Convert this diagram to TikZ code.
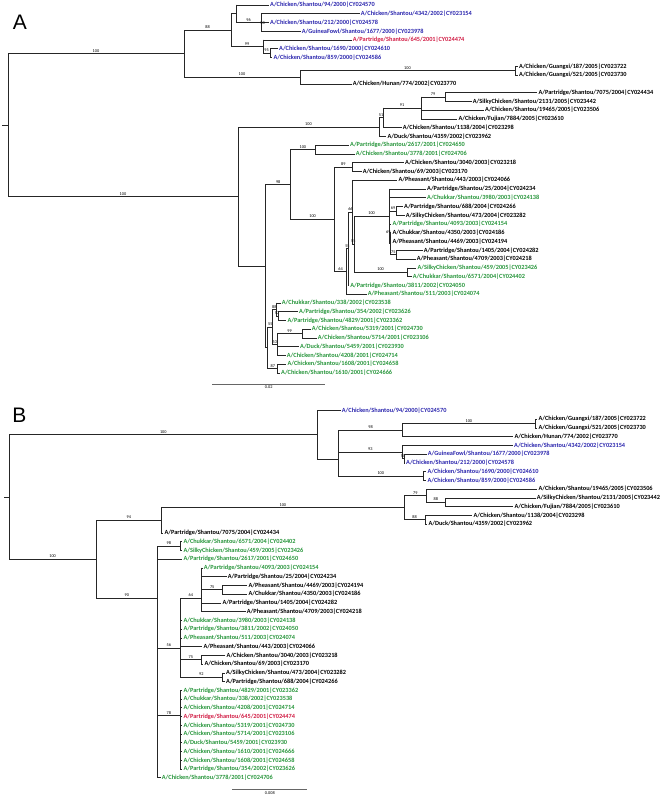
\documentclass[tikz,border=0pt]{standalone}
\usepackage{fontspec}
\setmainfont{Carlito}
\newfontfamily\arialf{Liberation Sans}
\definecolor{tblue}{RGB}{45,40,175}
\definecolor{tgreen}{RGB}{40,150,60}
\definecolor{tred}{RGB}{210,30,70}
\newcommand\labfont{\fontsize{6.3}{6.3}\selectfont\bfseries}
\newcommand\bsfont{\fontsize{4.3}{4.3}\selectfont}
\tikzset{
  br/.style={line width=0.7pt, draw=black!85, line cap=rect},
  lab/.style={font=\labfont, anchor=west, inner xsep=1.5pt, inner ysep=0pt},
  bs/.style={font=\bsfont, inner sep=0.4pt, anchor=south, yshift=0.7pt},
  bsx/.style={font=\bsfont, inner sep=0.4pt},
  blueT/.style={text=tblue}, greenT/.style={text=tgreen}, redT/.style={text=tred}, blackT/.style={text=black},
  plab/.style={font=\arialf\fontsize{21}{21}\selectfont, inner sep=0pt}
}
\newcommand\lf[5]{\node[lab,#4] (#1) at (#2,#3) {#5};}
\newcommand\nd[3]{\coordinate (#1) at (#2,#3);}
\newcommand\ed[3]{\draw[br] (#1 |- #2) -- (#2) node[bs,midway]{#3};}
\newcommand\el[2]{\draw[br] (#1 |- #2) -- (#2.west);}
\newcommand\vl[3]{\draw[br] (#1 |- #2) -- (#1 |- #3);}
\begin{document}
\begin{tikzpicture}[x=1pt,y=-1pt]
\useasboundingbox (0,0) rectangle (662,799);
\fill[white] (0,0) rectangle (662,799);
\node[plab] (labA) at (20,22.5) {A};
\node[plab] (labB) at (19.5,415) {B};
% ---------------- Panel A leaves
\lf{a94}{268.5}{5.0}{blueT}{A/Chicken/Shantou/94/2000|CY024570}
\lf{a4342}{359.2}{13.8}{blueT}{A/Chicken/Shantou/4342/2002|CY023154}
\lf{a212}{268.5}{22.5}{blueT}{A/Chicken/Shantou/212/2000|CY024578}
\lf{a1677}{300.2}{31.3}{blueT}{A/GuineaFowl/Shantou/1677/2000|CY023978}
\lf{a645}{351.2}{40.0}{redT}{A/Partridge/Shantou/645/2001|CY024474}
\lf{a1690}{277.5}{48.8}{blueT}{A/Chicken/Shantou/1690/2000|CY024610}
\lf{a859}{271.8}{57.6}{blueT}{A/Chicken/Shantou/859/2000|CY024586}
\lf{a187}{517.5}{66.3}{blackT}{A/Chicken/Guangxi/187/2005|CY023722}
\lf{a521}{517.5}{75.1}{blackT}{A/Chicken/Guangxi/521/2005|CY023730}
\lf{a774}{351.2}{83.9}{blackT}{A/Chicken/Hunan/774/2002|CY023770}
\lf{a7075}{536.8}{92.6}{blackT}{A/Partridge/Shantou/7075/2004|CY024434}
\lf{a2131}{471.2}{101.4}{blackT}{A/SilkyChicken/Shantou/2131/2005|CY023442}
\lf{a19465}{483.5}{110.1}{blackT}{A/Chicken/Shantou/19465/2005|CY023506}
\lf{a7884}{456.8}{118.9}{blackT}{A/Chicken/Fujian/7884/2005|CY023610}
\lf{a1138}{401.2}{127.7}{blackT}{A/Chicken/Shantou/1138/2004|CY023298}
\lf{a4359}{385.8}{136.4}{blackT}{A/Duck/Shantou/4359/2002|CY023962}
\lf{a2617}{348.5}{145.2}{greenT}{A/Partridge/Shantou/2617/2001|CY024650}
\lf{a3778}{354.2}{154.0}{greenT}{A/Chicken/Shantou/3778/2001|CY024706}
\lf{a3040}{403.5}{162.7}{blackT}{A/Chicken/Shantou/3040/2003|CY023218}
\lf{a69}{361.2}{171.5}{blackT}{A/Chicken/Shantou/69/2003|CY023170}
\lf{a443}{396.8}{180.2}{blackT}{A/Pheasant/Shantou/443/2003|CY024066}
\lf{a25}{425.5}{189.0}{blackT}{A/Partridge/Shantou/25/2004|CY024234}
\lf{a3980}{425.5}{197.8}{greenT}{A/Chukkar/Shantou/3980/2003|CY024138}
\lf{a688}{402.5}{206.5}{blackT}{A/Partridge/Shantou/688/2004|CY024266}
\lf{a473}{404.2}{215.3}{blackT}{A/SilkyChicken/Shantou/473/2004|CY023282}
\lf{a4093}{390.8}{224.1}{greenT}{A/Partridge/Shantou/4093/2003|CY024154}
\lf{a4350}{390.8}{232.8}{blackT}{A/Chukkar/Shantou/4350/2003|CY024186}
\lf{a4469}{390.8}{241.6}{blackT}{A/Pheasant/Shantou/4469/2003|CY024194}
\lf{a1405}{422.2}{250.3}{blackT}{A/Partridge/Shantou/1405/2004|CY024282}
\lf{a4709}{415.2}{259.1}{blackT}{A/Pheasant/Shantou/4709/2003|CY024218}
\lf{a459}{415.8}{267.9}{greenT}{A/SilkyChicken/Shantou/459/2005|CY023426}
\lf{a6571}{411.2}{276.6}{greenT}{A/Chukkar/Shantou/6571/2004|CY024402}
\lf{a3811}{348.6}{285.4}{greenT}{A/Partridge/Shantou/3811/2002|CY024050}
\lf{a511}{366.2}{294.1}{greenT}{A/Pheasant/Shantou/511/2003|CY024074}
\lf{a338}{280.2}{302.9}{greenT}{A/Chukkar/Shantou/338/2002|CY023538}
\lf{a354}{297.5}{311.7}{greenT}{A/Partridge/Shantou/354/2002|CY023626}
\lf{a4829}{285.8}{320.4}{greenT}{A/Partridge/Shantou/4829/2001|CY023362}
\lf{a5319}{310.2}{329.2}{greenT}{A/Chicken/Shantou/5319/2001|CY024730}
\lf{a5714}{316.2}{338.0}{greenT}{A/Chicken/Shantou/5714/2001|CY023106}
\lf{a5459}{298.5}{346.7}{greenT}{A/Duck/Shantou/5459/2001|CY023930}
\lf{a4208}{285.2}{355.5}{greenT}{A/Chicken/Shantou/4208/2001|CY024714}
\lf{a1608}{285.8}{364.2}{greenT}{A/Chicken/Shantou/1608/2001|CY024658}
\lf{a1610}{279.5}{373.0}{greenT}{A/Chicken/Shantou/1610/2001|CY024666}
% ---------------- Panel A internal nodes
\nd{rA}{8}{125.2}\nd{rAt}{2}{125.2}
\nd{n184}{184}{53.75}\nd{n231}{231}{30.2}\nd{n236}{236}{13.8}\nd{n261}{261}{22.5}
\nd{n263}{263}{46.6}\nd{n270}{270}{53.2}\nd{n300}{300}{77.3}\nd{n515}{515}{70.7}
\nd{n238}{238}{196.6}\nd{n379}{379}{127.1}\nd{n383}{383}{117.85}\nd{n421}{421}{108}
\nd{n445}{445}{97}\nd{n266}{265.7}{266.15}\nd{n291}{290.7}{184.5}\nd{n315}{315}{149.6}
\nd{n334}{334.5}{219.4}\nd{n352}{352.3}{167.1}\nd{m64}{346.7}{271.65}\nd{m55}{348.2}{248.8}
\nd{m66}{352.7}{212.25}\nd{m55c}{354}{244.3}\nd{n389}{389.3}{216.4}\nd{n396}{396.7}{210.9}
\nd{n390}{390.3}{243.75}\nd{n396b}{396.5}{254.7}\nd{n407}{407.3}{272.25}
\nd{n268}{267.8}{347.8}\nd{g66}{272.7}{327.0}\nd{g88}{276}{309.5}\nd{g5x}{278.2}{316.05}
\nd{g53}{277}{344.55}\nd{g99}{302.3}{333.6}\nd{g87}{277.7}{368.6}
% ---------------- Panel A edges
\draw[br] (rAt) -- (rA);
\vl{rA}{n184}{n238}\ed{rA}{n184}{100}\ed{rA}{n238}{100}
\vl{n184}{n231}{n300}\ed{n184}{n231}{88}\ed{n184}{n300}{100}
\vl{n231}{n236}{n263}\ed{n231}{n236}{}\ed{n231}{n263}{99}
\vl{n236}{a94}{n261}\el{n236}{a94}\ed{n236}{n261}{96}
\vl{n261}{a4342}{a1677}\el{n261}{a4342}\el{n261}{a212}\el{n261}{a1677}
\node[bsx] (bsA50) at (262.5,23.2) {50};
\vl{n263}{a645}{n270}\el{n263}{a645}\ed{n263}{n270}{95}
\vl{n270}{a1690}{a859}\el{n270}{a1690}\el{n270}{a859}
\vl{n300}{n515}{a774}\ed{n300}{n515}{100}\el{n300}{a774}
\vl{n515}{a187}{a521}\el{n515}{a187}\el{n515}{a521}
\vl{n238}{n379}{n266}\ed{n238}{n379}{100}\ed{n238}{n266}{}
\vl{n379}{n383}{a4359}\ed{n379}{n383}{51}\el{n379}{a4359}
\vl{n383}{n421}{a1138}\ed{n383}{n421}{91}\el{n383}{a1138}
\vl{n421}{n445}{a7884}\ed{n421}{n445}{79}\el{n421}{a19465}\el{n421}{a7884}
\vl{n445}{a7075}{a2131}\el{n445}{a7075}\el{n445}{a2131}
\vl{n266}{n291}{n268}\ed{n266}{n291}{98}\ed{n266}{n268}{}
\vl{n291}{n315}{n334}\ed{n291}{n315}{100}\ed{n291}{n334}{100}
\vl{n315}{a2617}{a3778}\el{n315}{a2617}\el{n315}{a3778}
\vl{n334}{n352}{m64}\ed{n334}{n352}{89}\ed{n334}{m64}{64}
\vl{n352}{a3040}{a69}\el{n352}{a3040}\el{n352}{a69}
\vl{m64}{m55}{a511}\ed{m64}{m55}{55}\el{m64}{a511}
\vl{m55}{m66}{a3811}\ed{m55}{m66}{66}\el{m55}{a3811}
\vl{m66}{a443}{m55c}\el{m66}{a443}\ed{m66}{m55c}{55}
\vl{m55c}{n389}{n407}\ed{m55c}{n389}{100}\ed{m55c}{n407}{100}
\vl{n389}{a25}{n390}\el{n389}{a25}\el{n389}{a3980}\ed{n389}{n396}{69}\el{n389}{a4093}\ed{n389}{n390}{}
\node[bsx] (bsA69) at (388.3,232.4) {69};
\vl{n396}{a688}{a473}\el{n396}{a688}\el{n396}{a473}
\vl{n390}{a4350}{n396b}\el{n390}{a4350}\el{n390}{a4469}\ed{n390}{n396b}{75}
\vl{n396b}{a1405}{a4709}\el{n396b}{a1405}\el{n396b}{a4709}
\vl{n407}{a459}{a6571}\el{n407}{a459}\el{n407}{a6571}
\vl{n268}{g66}{g87}\ed{n268}{g66}{55}\ed{n268}{g87}{87}
\vl{g66}{g88}{g53}\ed{g66}{g88}{88}\ed{g66}{g53}{53}
\vl{g88}{a338}{g5x}\el{g88}{a338}\ed{g88}{g5x}{52}
\vl{g5x}{a354}{a4829}\el{g5x}{a354}\el{g5x}{a4829}
\vl{g53}{g99}{a4208}\ed{g53}{g99}{99}\el{g53}{a5459}\el{g53}{a4208}
\vl{g99}{a5319}{a5714}\el{g99}{a5319}\el{g99}{a5714}
\vl{g87}{a1608}{a1610}\el{g87}{a1608}\el{g87}{a1610}
% scale bar A
\coordinate (sA1) at (212.3,384.3); \coordinate (sA2) at (325,384.3);
\draw[line width=0.6pt, draw=black!60] (sA1) -- (sA2) node[midway, below, font=\bsfont, inner sep=1.6pt] (sAl) {0.02};
% ---------------- Panel B leaves
\lf{b94}{340.2}{410.5}{blueT}{A/Chicken/Shantou/94/2000|CY024570}
\lf{b187}{536.8}{419.2}{blackT}{A/Chicken/Guangxi/187/2005|CY023722}
\lf{b521}{536.8}{428.0}{blackT}{A/Chicken/Guangxi/521/2005|CY023730}
\lf{b774}{512.8}{436.7}{blackT}{A/Chicken/Hunan/774/2002|CY023770}
\lf{b4342}{512.5}{445.5}{blueT}{A/Chicken/Shantou/4342/2002|CY023154}
\lf{b1677}{426.2}{454.2}{blueT}{A/GuineaFowl/Shantou/1677/2000|CY023978}
\lf{b212}{404.5}{463.0}{blueT}{A/Chicken/Shantou/212/2000|CY024578}
\lf{b1690}{425.8}{471.7}{blueT}{A/Chicken/Shantou/1690/2000|CY024610}
\lf{b859}{425.8}{480.5}{blueT}{A/Chicken/Shantou/859/2000|CY024586}
\lf{b19465}{536.8}{489.2}{blackT}{A/Chicken/Shantou/19465/2005|CY023506}
\lf{b2131}{535.2}{498.0}{blackT}{A/SilkyChicken/Shantou/2131/2005|CY023442}
\lf{b7884}{512.8}{506.7}{blackT}{A/Chicken/Fujian/7884/2005|CY023610}
\lf{b1138}{471.8}{515.4}{blackT}{A/Chicken/Shantou/1138/2004|CY023298}
\lf{b4359}{426.8}{524.2}{blackT}{A/Duck/Shantou/4359/2002|CY023962}
\lf{b7075}{162.8}{532.9}{blackT}{A/Partridge/Shantou/7075/2004|CY024434}
\lf{b6571}{181.8}{541.7}{greenT}{A/Chukkar/Shantou/6571/2004|CY024402}
\lf{b459}{181.8}{550.4}{greenT}{A/SilkyChicken/Shantou/459/2005|CY023426}
\lf{b2617}{181.8}{559.2}{greenT}{A/Partridge/Shantou/2617/2001|CY024650}
\lf{b4093}{202.2}{567.9}{greenT}{A/Partridge/Shantou/4093/2003|CY024154}
\lf{b25}{226.2}{576.7}{blackT}{A/Partridge/Shantou/25/2004|CY024234}
\lf{b4469}{246.8}{585.4}{blackT}{A/Pheasant/Shantou/4469/2003|CY024194}
\lf{b4350}{246.8}{594.1}{blackT}{A/Chukkar/Shantou/4350/2003|CY024186}
\lf{b1405}{220.8}{602.9}{blackT}{A/Partridge/Shantou/1405/2004|CY024282}
\lf{b4709}{245.2}{611.6}{blackT}{A/Pheasant/Shantou/4709/2003|CY024218}
\lf{b3980}{181.8}{620.4}{greenT}{A/Chukkar/Shantou/3980/2003|CY024138}
\lf{b3811}{181.8}{629.1}{greenT}{A/Partridge/Shantou/3811/2002|CY024050}
\lf{b511}{181.8}{637.9}{greenT}{A/Pheasant/Shantou/511/2003|CY024074}
\lf{b443}{201.8}{646.6}{blackT}{A/Pheasant/Shantou/443/2003|CY024066}
\lf{b3040}{225.0}{655.4}{blackT}{A/Chicken/Shantou/3040/2003|CY023218}
\lf{b69}{202.8}{664.1}{blackT}{A/Chicken/Shantou/69/2003|CY023170}
\lf{b473}{224.5}{672.9}{blackT}{A/SilkyChicken/Shantou/473/2004|CY023282}
\lf{b688}{224.5}{681.6}{blackT}{A/Partridge/Shantou/688/2004|CY024266}
\lf{b4829}{181.8}{690.3}{greenT}{A/Partridge/Shantou/4829/2001|CY023362}
\lf{b338}{181.8}{699.1}{greenT}{A/Chukkar/Shantou/338/2002|CY023538}
\lf{b4208}{181.8}{707.8}{greenT}{A/Chicken/Shantou/4208/2001|CY024714}
\lf{b645}{181.8}{716.6}{redT}{A/Partridge/Shantou/645/2001|CY024474}
\lf{b5319}{181.8}{725.3}{greenT}{A/Chicken/Shantou/5319/2001|CY024730}
\lf{b5714}{181.8}{734.1}{greenT}{A/Chicken/Shantou/5714/2001|CY023106}
\lf{b5459}{181.8}{742.8}{greenT}{A/Duck/Shantou/5459/2001|CY023930}
\lf{b1610}{181.8}{751.6}{greenT}{A/Chicken/Shantou/1610/2001|CY024666}
\lf{b1608}{181.8}{760.3}{greenT}{A/Chicken/Shantou/1608/2001|CY024658}
\lf{b354}{181.8}{769.1}{greenT}{A/Partridge/Shantou/354/2002|CY023626}
\lf{b3778}{160.2}{777.8}{greenT}{A/Chicken/Shantou/3778/2001|CY024706}
% ---------------- Panel B internal nodes
\nd{rB}{9.3}{497}\nd{rBt}{4}{497}
\nd{p317}{317.3}{434.75}\nd{p338}{338.3}{459}\nd{p402}{402.7}{430.2}\nd{p535}{535}{423.6}
\nd{p93}{402.3}{452.05}\nd{p50}{404}{458.6}\nd{p423}{423.3}{476.1}
\nd{p96}{96}{559.2}\nd{p161}{161.7}{520.35}\nd{p404}{404}{507.8}\nd{p427}{426.7}{495.8}
\nd{p445}{445}{502.35}\nd{p425}{425}{519.8}
\nd{p158}{157.5}{598.3}\nd{q180a}{180}{546.05}\nd{q180b}{180}{648.3}\nd{q201a}{201.7}{598.3}
\nd{q222a}{222.7}{589.75}\nd{q201b}{201.7}{659.75}\nd{q222b}{222.7}{677.25}\nd{q180c}{180}{715.7}
% ---------------- Panel B edges
\draw[br] (rBt) -- (rB);
\vl{rB}{p317}{p96}\ed{rB}{p317}{100}\ed{rB}{p96}{100}
\vl{p317}{b94}{p338}\el{p317}{b94}\ed{p317}{p338}{}
\vl{p338}{p402}{p423}\ed{p338}{p402}{98}\ed{p338}{p93}{93}\ed{p338}{p423}{100}
\vl{p402}{p535}{b774}\ed{p402}{p535}{100}\el{p402}{b774}
\vl{p535}{b187}{b521}\el{p535}{b187}\el{p535}{b521}
\vl{p93}{b4342}{p50}\el{p93}{b4342}\ed{p93}{p50}{50}
\vl{p50}{b1677}{b212}\el{p50}{b1677}\el{p50}{b212}
\vl{p423}{b1690}{b859}\el{p423}{b1690}\el{p423}{b859}
\vl{p96}{p161}{p158}\ed{p96}{p161}{94}\ed{p96}{p158}{90}
\vl{p161}{p404}{b7075}\ed{p161}{p404}{100}\el{p161}{b7075}
\vl{p404}{p427}{p425}\ed{p404}{p427}{79}\ed{p404}{p425}{88}
\vl{p427}{b19465}{p445}\el{p427}{b19465}\ed{p427}{p445}{88}
\vl{p445}{b2131}{b7884}\el{p445}{b2131}\el{p445}{b7884}
\vl{p425}{b1138}{b4359}\el{p425}{b1138}\el{p425}{b4359}
\vl{p158}{q180a}{b3778}\ed{p158}{q180a}{98}\el{p158}{b2617}\ed{p158}{q180b}{56}\ed{p158}{q180c}{78}\el{p158}{b3778}
\vl{q180a}{b6571}{b459}\el{q180a}{b6571}\el{q180a}{b459}
\vl{q180b}{q201a}{q222b}\ed{q180b}{q201a}{64}\el{q180b}{b3980}\el{q180b}{b3811}\el{q180b}{b511}\el{q180b}{b443}\ed{q180b}{q201b}{75}\ed{q180b}{q222b}{92}
\vl{q201a}{b4093}{b4709}\el{q201a}{b4093}\el{q201a}{b25}\ed{q201a}{q222a}{75}\el{q201a}{b1405}\el{q201a}{b4709}
\vl{q222a}{b4469}{b4350}\el{q222a}{b4469}\el{q222a}{b4350}
\vl{q201b}{b3040}{b69}\el{q201b}{b3040}\el{q201b}{b69}
\vl{q222b}{b473}{b688}\el{q222b}{b473}\el{q222b}{b688}
\vl{q180c}{b4829}{b354}
\el{q180c}{b4829}\el{q180c}{b338}\el{q180c}{b4208}\el{q180c}{b645}\el{q180c}{b5319}
\el{q180c}{b5714}\el{q180c}{b5459}\el{q180c}{b1610}\el{q180c}{b1608}\el{q180c}{b354}
% scale bar B
\coordinate (sB1) at (232.3,789.3); \coordinate (sB2) at (307.3,789.3);
\draw[line width=0.6pt, draw=black!60] (sB1) -- (sB2) node[midway, below, font=\bsfont, inner sep=1.6pt] (sBl) {0.008};
\end{tikzpicture}
\end{document}
